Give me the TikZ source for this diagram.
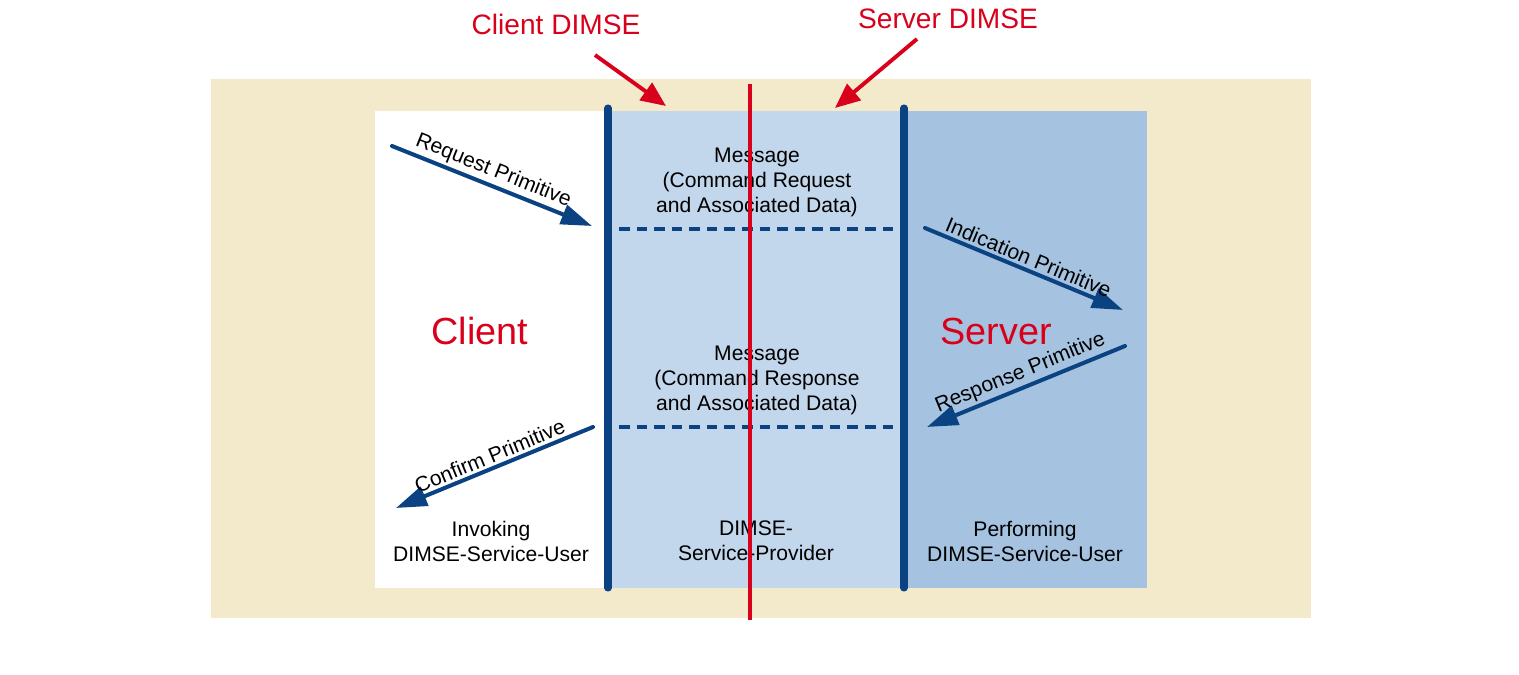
\documentclass[tikz,border=0pt]{standalone}
\usepackage{fontspec}
\setmainfont{Liberation Sans}
\usetikzlibrary{arrows.meta}
\definecolor{beige}{HTML}{F2EACB}
\definecolor{midblue}{HTML}{C2D6EC}
\definecolor{rightblue}{HTML}{A5C3E0}
\definecolor{darkblue}{HTML}{0A4282}
\definecolor{dred}{HTML}{D9001B}
\tikzset{
  txt/.style={align=center, font=\fontsize{12}{14.2}\selectfont, inner sep=0pt},
  redtxt/.style={text=dred, font=\fontsize{16}{18}\selectfont, inner sep=0pt},
  bigred/.style={text=dred, font=\fontsize{21.5}{24}\selectfont, inner sep=0pt},
  primarrow/.style={draw=darkblue, line width=2.3pt, line cap=round,
     -{Triangle[length=0.62cm, width=0.4cm]}},
  redarrow/.style={draw=dred, line width=2.2pt, -{Triangle[length=0.5cm, width=0.42cm]}},
  wall/.style={draw=darkblue, line width=4pt, line cap=round},
  dashline/.style={draw=darkblue, line width=2pt, dash pattern=on 6pt off 4pt},
  lbl/.style={font=\fontsize{12}{14}\selectfont, sloped, above, inner sep=1.5pt}
}
\begin{document}
\begin{tikzpicture}[x=0.02cm, y=-0.02cm]
\useasboundingbox (0,0) rectangle (1519,675);
% backgrounds
\fill[beige] (211,79) rectangle (1311,618);
\fill[white] (375,111) rectangle (608,588);
\fill[midblue] (608,111) rectangle (904,588);
\fill[rightblue] (904,111) rectangle (1147,588);
% walls
\coordinate (w1t) at (608,108); \coordinate (w1b) at (608,588);
\coordinate (w2t) at (904,108); \coordinate (w2b) at (904,588);
\draw[wall] (w1t) -- (w1b);
\draw[wall] (w2t) -- (w2b);
% dashed lines
\coordinate (d1a) at (619,229); \coordinate (d1b) at (895,229);
\coordinate (d2a) at (619,427); \coordinate (d2b) at (895,427);
\draw[dashline] (d1a) -- (d1b);
\draw[dashline] (d2a) -- (d2b);
% messages
\node[txt] (msg1) at (757,182) {Message\\(Command Request\\and Associated Data)};
\node[txt] (msg2) at (757,380) {Message\\(Command Response\\and Associated Data)};
% bottom labels
\node[txt] (inv) at (491,541) {Invoking\\DIMSE-Service-User};
\node[txt] (prov) at (756,541) {DIMSE-\\Service-Provider};
\node[txt] (perf) at (1025,541) {Performing\\DIMSE-Service-User};
% big labels
\node[bigred] (client) at (480,331) {Client};
\node[bigred] (server) at (996,331) {Server};
% primitive arrows
\coordinate (r1) at (392,146); \coordinate (r2) at (592,226);
\coordinate (i1) at (925,228); \coordinate (i2) at (1123,310);
\coordinate (s1) at (1125,346); \coordinate (s2) at (927,427);
\coordinate (c1) at (593,427); \coordinate (c2) at (396,508);
\draw[primarrow] (r1) -- node[lbl, pos=0.48] {Request Primitive} (r2);
\draw[primarrow] (i1) -- node[lbl, pos=0.5] {Indication Primitive} (i2);
\draw[primarrow] (s1) -- node[lbl, pos=0.5] {Response Primitive} (s2);
\draw[primarrow] (c1) -- node[lbl, pos=0.5] {Confirm Primitive} (c2);
% red line
\coordinate (rl1) at (750,84); \coordinate (rl2) at (750,620);
\draw[dred, line width=1.8pt] (rl1) -- (rl2);
% DIMSE labels
\node[redtxt] (cd) at (556,24) {Client DIMSE};
\node[redtxt] (sd) at (948,19) {Server DIMSE};
\coordinate (ca1) at (595,55); \coordinate (ca2) at (666,106);
\coordinate (sa1) at (917,39); \coordinate (sa2) at (835,108);
\draw[redarrow] (ca1) -- (ca2);
\draw[redarrow] (sa1) -- (sa2);
\end{tikzpicture}
\end{document}
